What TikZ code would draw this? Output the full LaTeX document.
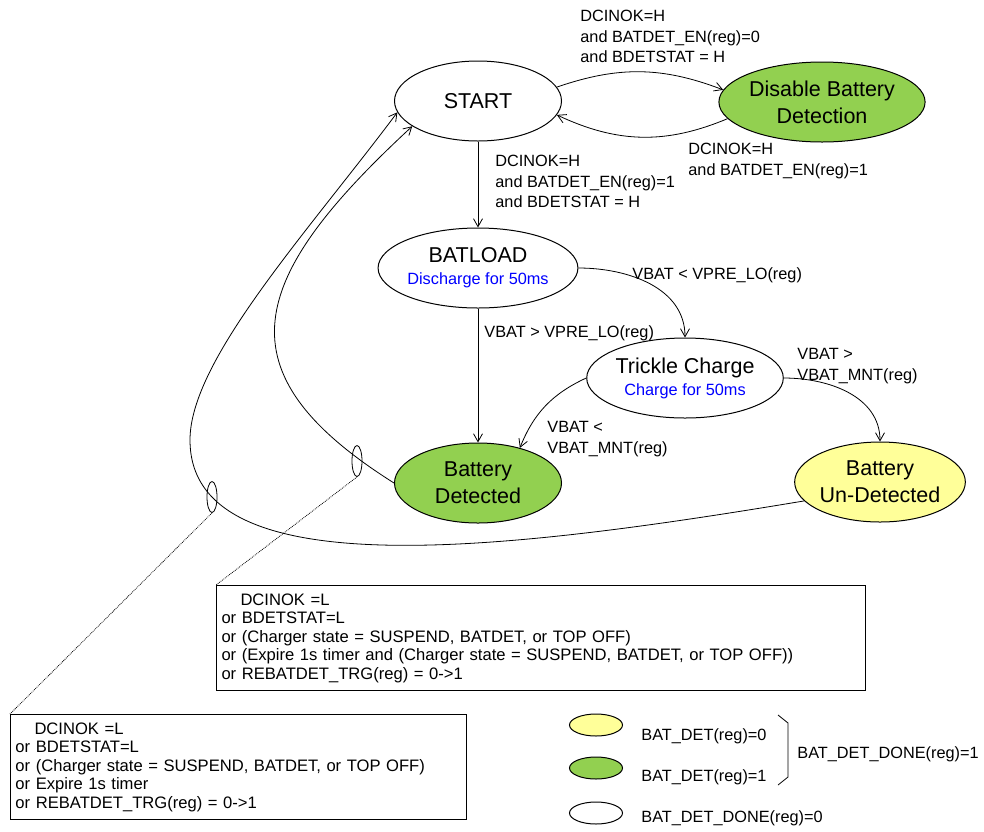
\documentclass[tikz,border=0pt]{standalone}
\usepackage{fontspec}
\setmainfont{Liberation Sans}
\usetikzlibrary{shapes.geometric,arrows.meta}

\definecolor{detgreen}{RGB}{146,208,80}
\definecolor{undetyellow}{RGB}{255,255,153}
\newcommand{\bigfont}{\fontsize{21.5}{22}\selectfont}
\newcommand{\smallfont}{\fontsize{16.3}{20.5}\selectfont}
\newcommand{\boxfont}{\fontsize{16.6}{18.5}\selectfont}

\begin{document}
\begin{tikzpicture}[x=1pt,y=-1pt,line width=0.8pt,
    state/.style={ellipse,draw,line width=1pt,minimum width=167,minimum height=80,inner sep=0pt,align=center,font=\bigfont},
    lbl/.style={anchor=north west,inner sep=0pt,align=left,font=\smallfont},
    cond/.style={rectangle,draw,line width=1pt,anchor=north west,minimum height=105,align=left,font=\boxfont,inner xsep=5pt},
    tag/.style={ellipse,draw,minimum width=10,minimum height=31,inner sep=0pt},
    key/.style={ellipse,draw,line width=1pt,minimum width=53,minimum height=22,inner sep=0pt},
    every edge/.style={draw,line width=0.8pt},
    >={Straight Barb[length=8pt,width=9pt]}]

  \useasboundingbox (0,0) rectangle (984,831);

  \begin{scope}[every node/.style={state}]
    \node (start)    at (478,101) {START};
    \node[fill=detgreen] (disable) at (822,102) {Disable Battery\\[5pt]Detection};
    \node (batload)  at (478,268) {BATLOAD\\{\smallfont\color{blue}Discharge for 50ms}};
    \node (trickle)  at (685,378) {Trickle Charge\\{\smallfont\color{blue}Charge for 50ms}};
    \node[fill=detgreen] (detected) at (478,483) {Battery\\[5pt]Detected};
    \node[fill=undetyellow] (undet) at (880,482) {Battery\\[5pt]Un-Detected};
  \end{scope}

  \begin{scope}[every node/.style={lbl}]
    \node (c1) at (580,10)  {DCINOK=H\\and BATDET\_EN(reg)=0\\and BDETSTAT = H};
    \node (c2) at (688,143) {DCINOK=H\\and BATDET\_EN(reg)=1};
    \node (c3) at (495,155) {DCINOK=H\\and BATDET\_EN(reg)=1\\and BDETSTAT = H};
    \node (c4) at (632,267) {VBAT < VPRE\_LO(reg)};
    \node (c5) at (484,325) {VBAT > VPRE\_LO(reg)};
    \node (c6) at (797,348) {VBAT >\\VBAT\_MNT(reg)};
    \node (c7) at (547,421) {VBAT <\\VBAT\_MNT(reg)};
  \end{scope}

  % transitions
  \path (start.10)    edge[->,bend left=20] (disable.173);
  \path (disable.190) edge[->,bend left=24] (start.350);
  \path (start)       edge[->] (batload);
  \path (batload.east) edge[->,out=0,in=90] (trickle.north);
  \path (batload)     edge[->] (detected);
  \path (trickle.west) edge[->,out=205,in=68] (detected.40);
  \path (trickle.east) edge[->,out=0,in=90] (undet.north);

  % back to START
  \draw[->] (detected.west) .. controls (218,372) and (247,279) .. (start.201);
  \draw[->] (undet.194) .. controls (509,550) and (190,590) .. (190,440)
            .. controls (190,360) and (307,233) .. (start.188);

  % condition boxes
  \node[tag] (m1) at (212,497) {};
  \node[tag] (m2) at (357,461) {};
  \node[cond,text width=639] (box1) at (216,585) {\hspace*{19pt}DCINOK =L\\or BDETSTAT=L\\or (Charger state = SUSPEND, BATDET, or TOP OFF)\\or (Expire 1s timer and (Charger state = SUSPEND, BATDET, or TOP OFF))\\or REBATDET\_TRG(reg) = 0->1};
  \node[cond,text width=446] (box2) at (10,714) {\hspace*{19pt}DCINOK =L\\or BDETSTAT=L\\or (Charger state = SUSPEND, BATDET, or TOP OFF)\\or Expire 1s timer\\or REBATDET\_TRG(reg) = 0->1};
  \draw[densely dotted] (m1.south) -- (box2.north west);
  \draw[densely dotted] (m2.south) -- (box1.north west);

  % legend
  \node[key,fill=undetyellow] (k0) at (596,725) {};
  \node[key,fill=detgreen]    (k1) at (596,768) {};
  \node[key]                  (k2) at (596,813) {};
  \begin{scope}[every node/.style={anchor=base west,inner sep=0pt,font=\smallfont}]
    \node (t0) at (641,740) {BAT\_DET(reg)=0};
    \node (t1) at (641,781) {BAT\_DET(reg)=1};
    \node (t2) at (641,822) {BAT\_DET\_DONE(reg)=0};
    \node (t3) at (797,758) {BAT\_DET\_DONE(reg)=1};
  \end{scope}
  \draw (778,715) -- (788,723) -- (788,777) -- (778,785);

\end{tikzpicture}
\end{document}
